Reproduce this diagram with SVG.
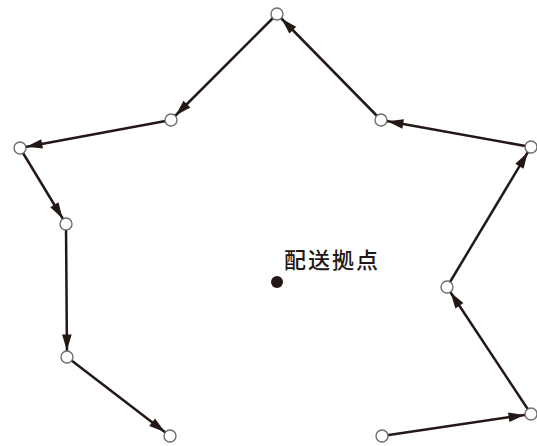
<svg xmlns="http://www.w3.org/2000/svg" width="537" height="446" viewBox="0 0 537 446">
<style>
.edge{stroke:#231815;stroke-width:2.5;fill:none;marker-end:url(#arr)}
.node{fill:#fff;stroke:#6e6e6e;stroke-width:1.4}
.lbl{font-family:"Noto Sans CJK JP","Noto Sans CJK SC",sans-serif;font-size:22px;font-weight:500;fill:#231815;letter-spacing:2px}
</style>
<defs>
<marker id="arr" markerUnits="userSpaceOnUse" markerWidth="30" markerHeight="20" viewBox="-20 -10 30 20" refX="6.5" refY="0" orient="auto" overflow="visible">
<path d="M-16,-4.8 L0,0 L-16,4.8 Z" fill="#231815"/>
</marker>
</defs>
<rect width="537" height="446" fill="#fff"/>
<g id="connectors">
<line class="edge" x1="382" y1="436" x2="531" y2="414"/>
<line class="edge" x1="531" y1="414" x2="447" y2="287"/>
<line class="edge" x1="447" y1="287" x2="531" y2="147"/>
<line class="edge" x1="531" y1="147" x2="381" y2="120"/>
<line class="edge" x1="381" y1="120" x2="277" y2="14"/>
<line class="edge" x1="277" y1="14" x2="171" y2="120"/>
<line class="edge" x1="171" y1="120" x2="20" y2="148"/>
<line class="edge" x1="20" y1="148" x2="66" y2="224"/>
<line class="edge" x1="66" y1="224" x2="67" y2="357"/>
<line class="edge" x1="67" y1="357" x2="170" y2="436"/>
</g>
<g id="nA"><circle class="node" cx="277" cy="14" r="6"/></g>
<g id="nB"><circle class="node" cx="171" cy="120" r="6"/></g>
<g id="nC"><circle class="node" cx="20" cy="148" r="6"/></g>
<g id="nD"><circle class="node" cx="66" cy="224" r="6"/></g>
<g id="nE"><circle class="node" cx="67" cy="357" r="6"/></g>
<g id="nF"><circle class="node" cx="170" cy="436" r="6"/></g>
<g id="nG"><circle class="node" cx="382" cy="436" r="6"/></g>
<g id="nH"><circle class="node" cx="531" cy="414" r="6"/></g>
<g id="nI"><circle class="node" cx="447" cy="287" r="6"/></g>
<g id="nJ"><circle class="node" cx="531" cy="147" r="6"/></g>
<g id="nK"><circle class="node" cx="381" cy="120" r="6"/></g>
<g id="depot">
<circle cx="277" cy="282" r="6" fill="#231815"/>
<text class="lbl" x="284" y="268">配送拠点</text>
</g>
</svg>
